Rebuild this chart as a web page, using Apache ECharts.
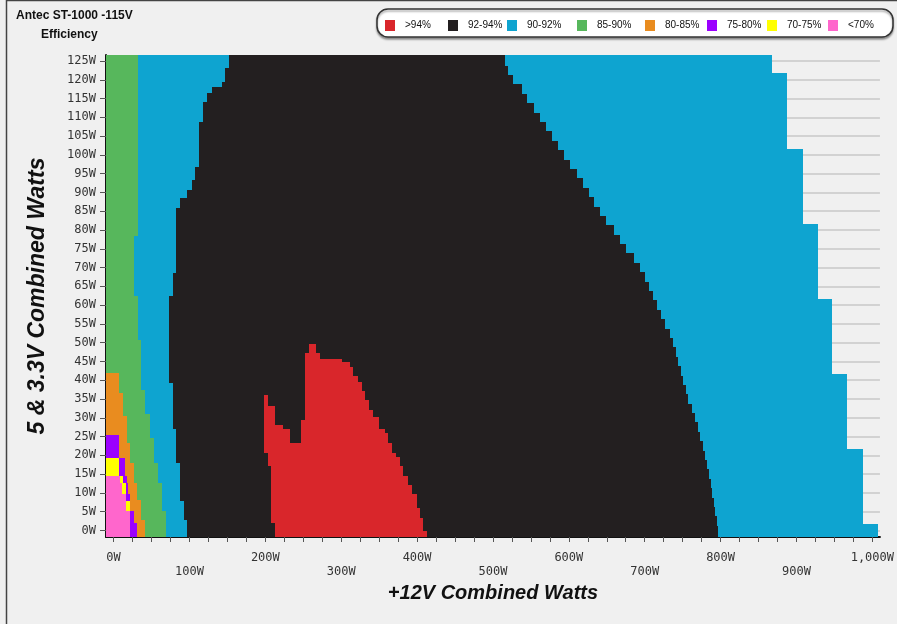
<!DOCTYPE html>
<html><head><meta charset="utf-8">
<script src="https://cdn.jsdelivr.net/npm/echarts@6/dist/echarts.min.js"></script>
<style>html,body{margin:0;padding:0;background:#f0f0f0}#chart{width:897px;height:624px}</style>
</head><body><div id="chart"></div>
<script>
// ---- categories / colours ----
const categories = ['>94%', '92-94%', '90-92%', '85-90%', '80-85%', '75-80%', '70-75%', '<70%'];
const colors = ['#d9262b', '#231f20', '#0ea4d0', '#57b75c', '#e98c1f', '#9b00ff', '#ffff00', '#ff66cc'];

// ---- tick labels ----
const xTickLabels = [0, 100, 200, 300, 400, 500, 600, 700, 800, 900, 1000];
const yTickLabels = [0, 5, 10, 15, 20, 25, 30, 35, 40, 45, 50, 55, 60, 65, 70, 75, 80, 85, 90, 95, 100, 105, 110, 115, 120, 125];

// ---- region boundaries: [from 5&3.3V watts, +12V watts] (step holds up to next entry) ----
const capacityEdge = [[-2, 1008], [1.7, 988], [21.7, 967], [41.7, 947], [61.7, 928], [81.7, 908], [101.7, 887], [121.7, 868]];
const blackLeftEdge = [[-2, 97], [2.9, 92.3], [7.8, 88], [18, 82.7], [26.9, 77.8], [39.3, 73], [62.3, 77.8], [68.5, 82.7], [85.8, 88], [88.5, 96.7], [90.7, 103.3], [93.4, 107.7], [96.9, 113], [108.7, 117.8], [114, 123], [116.5, 130], [118.2, 143], [119.5, 147.3], [123.1, 151.7]];
const blackRightEdge = [[-2, 796], [1.25, 795], [3.75, 793], [6.25, 791], [8.75, 789], [11.25, 787], [13.75, 785], [16.25, 782], [18.75, 779], [21.25, 777], [23.75, 773], [26.25, 770], [28.75, 766], [31.25, 762], [33.75, 757], [36.25, 754], [38.75, 751], [41.25, 748], [43.75, 744], [46.25, 741], [48.75, 737], [51.25, 733], [53.75, 727], [56.25, 721], [58.75, 716], [61.25, 711], [63.75, 706], [66.25, 701], [68.75, 694], [71.25, 686], [73.75, 676], [76.25, 667], [78.75, 659], [81.25, 649], [83.75, 641], [86.25, 633], [88.75, 626], [91.25, 619], [93.75, 611], [96.25, 602], [98.75, 594], [101.25, 586], [103.75, 578], [106.25, 570], [108.75, 562], [111.25, 554], [113.75, 545], [116.25, 538], [118.75, 527], [121.25, 520], [123.75, 516]];
const redLeftEdge = [[-2, 213.3], [2, 208], [17.1, 203.6], [20.7, 198.3], [36, 252], [47.3, 257.3], [49.7, null]];
const redRightEdge = [[-2, 412.5], [-0.2, 408], [3.4, 403.7], [5.9, 399.3], [9.6, 393.5], [12.2, 387.5], [14.4, 381.7], [17.1, 377.3], [19.6, 372], [20.7, 366.4], [23.3, 361.9], [26, 357.5], [27.1, 350], [30.2, 342.1], [32.2, 336.8], [34.6, 332], [37, 326.8], [39.5, 322.3], [41, 315.7], [43.4, 311.3], [44.9, 301.2], [45.7, 271.8], [47.3, 266.5], [49.7, null]];
const notchLeftEdge = [[23.3, 232.2], [26.9, 223.4], [28.2, 212.4], [33.1, 203.6], [36, null]];
const notchRightEdge = [[23.3, 247.6], [29.5, 252], [36, null]];
const greenEdge = [[-2, 68.5], [5.3, 63.7], [12.5, 58.3], [18, 53.2], [24.7, 48.4], [31, 41.8], [37.5, 36.5], [50.8, 32], [62.3, 27.3], [78.3, 32]];
const orangeEdge = [[-2, 41.8], [2.9, 36], [8.2, 30.8], [12.7, 26.4], [18, 22], [23.3, 17.6], [30.4, 12.3], [36.6, 7.5], [41.9, null]];
const purpleEdge = [[-2, 31], [1.9, 27.3], [5.1, null], [7.8, 21.1], [9.6, 19.4], [12.7, 17.6], [14.4, 15], [19.3, 7], [25.5, null]];
const yellowEdge = [[5.1, 21.1], [7.8, null], [9.6, 16.7], [12.7, 12.3], [14.4, 7], [19.3, null]];
const pinkEdge = [[-2, 22], [5.1, 16.7], [9.6, 11.5], [12.7, 7.9], [14.4, null]];

// ---- build ----
const X_MIN = -10, X_MAX = 1010, Y_MIN = -1.75, Y_MAX = 126.6;
function stepAt(edge, y) { let v = null; for (const p of edge) { if (p[0] <= y + 1e-6) v = p[1]; } return v; }
function layerRects(fromEdge, toEdge) {
  const ys = new Set([Y_MIN]);
  [fromEdge, toEdge].forEach(e => e && e.forEach(p => { if (p[0] > Y_MIN) ys.add(p[0]); }));
  const arr = [...ys].sort((a, b) => a - b);
  const out = [];
  for (let i = 0; i < arr.length; i++) {
    const y0 = arr[i], y1 = i + 1 < arr.length ? arr[i + 1] : Y_MAX;
    if (y1 <= y0) continue;
    const x0 = fromEdge ? stepAt(fromEdge, y0) : X_MIN;
    const x1 = stepAt(toEdge, y0);
    if (x0 == null || x1 == null || x1 <= x0) continue;
    out.push([y0, y1, x0, x1]);
  }
  return out;
}
const layers = [
  { cat: 2, from: null, to: capacityEdge },
  { cat: 1, from: blackLeftEdge, to: blackRightEdge },
  { cat: 0, from: redLeftEdge, to: redRightEdge },
  { cat: 1, from: notchLeftEdge, to: notchRightEdge },
  { cat: 3, from: null, to: greenEdge },
  { cat: 4, from: null, to: orangeEdge },
  { cat: 5, from: null, to: purpleEdge },
  { cat: 6, from: null, to: yellowEdge },
  { cat: 7, from: null, to: pinkEdge }
];
function renderRect(params, api) {
  const a = api.coord([api.value(2), api.value(1)]);
  const b = api.coord([api.value(3), api.value(0)]);
  const L = Math.round(a[0]), T = Math.round(a[1]), R = Math.round(b[0]), B = Math.round(b[1]);
  return { type: 'rect', shape: { x: L, y: T, width: R - L, height: B - T }, style: { fill: api.visual('color') } };
}
const series = layers.map(l => ({
  type: 'custom', name: categories[l.cat], itemStyle: { color: colors[l.cat] },
  renderItem: renderRect, data: layerRects(l.from, l.to),
  encode: { x: [2, 3], y: [0, 1] }, clip: true, silent: true
}));

const xTickMarks = []; for (let v = 0; v <= 1000; v += 25) xTickMarks.push(v);
const yMinorMarks = []; for (let v = 0; v <= 126; v += 1) yMinorMarks.push(v);
const legendLeft = [385, 448, 507, 577, 645, 707, 767, 828];
const monoFont = 'DejaVu Sans Mono';
function fmtW(v) { return String(v).replace(/\B(?=(\d{3})+(?!\d))/g, ',') + 'W'; }

const chart = echarts.init(document.getElementById('chart'));
chart.setOption({
  animation: false,
  backgroundColor: '#f0f0f0',
  title: [
    { text: 'Antec ST-1000 -115V', left: 11, top: 5, textStyle: { fontSize: 12, fontWeight: 'bold', color: '#111', fontFamily: 'Liberation Sans' } },
    { text: 'Efficiency', left: 36, top: 24, textStyle: { fontSize: 12, fontWeight: 'bold', color: '#111', fontFamily: 'Liberation Sans' } }
  ],
  graphic: [
    { type: 'line', shape: { x1: 6.5, y1: 0, x2: 6.5, y2: 624 }, style: { stroke: '#444', lineWidth: 1.5 }, z: 0 },
    { type: 'line', shape: { x1: 6, y1: 0.5, x2: 897, y2: 0.5 }, style: { stroke: '#444', lineWidth: 1.5 }, z: 0 },
    { type: 'rect', shape: { x: 377, y: 9, width: 516, height: 28, r: 11 }, style: { fill: '#ffffff', stroke: '#333', lineWidth: 1.5, shadowBlur: 2, shadowOffsetY: 2, shadowColor: 'rgba(0,0,0,0.35)' }, z: 0 }
  ],
  legend: categories.map((c, i) => ({
    data: [c], left: legendLeft[i], top: 20, icon: 'rect', itemWidth: 10, itemHeight: 11, padding: 0,
    selectedMode: false, textStyle: { fontSize: 10, color: '#111', fontFamily: 'Liberation Sans', padding: [0, 0, 0, 5] }
  })),
  grid: { left: 106, right: 17, top: 55, bottom: 87 },
  xAxis: {
    type: 'value', min: X_MIN, max: X_MAX,
    axisLine: { show: true, onZero: false, lineStyle: { color: '#111', width: 2 } },
    axisTick: { show: true, customValues: xTickMarks, length: 5, lineStyle: { color: '#555' } },
    axisLabel: { customValues: xTickLabels, margin: 14, lineHeight: 14, fontSize: 12, fontFamily: monoFont, color: '#333',
      formatter: v => ((v / 100) % 2 === 1 ? '\n' : '') + fmtW(v) },
    splitLine: { show: false },
    name: '+12V Combined Watts', nameLocation: 'middle', nameGap: 35,
    nameTextStyle: { fontSize: 20, fontWeight: 'bold', fontStyle: 'italic', color: '#111', fontFamily: 'Liberation Sans' }
  },
  yAxis: [
    {
      type: 'value', min: Y_MIN, max: Y_MAX, position: 'left',
      axisLine: { show: true, onZero: false, lineStyle: { color: '#111', width: 2 } },
      axisTick: { show: true, customValues: yTickLabels, length: 6, lineStyle: { color: '#555' } },
      axisLabel: { customValues: yTickLabels, margin: 10, fontSize: 12, fontFamily: monoFont, color: '#333', formatter: v => fmtW(v) },
      splitLine: { show: true, lineStyle: { color: '#c8c8c8', width: 1.5 } },
      name: '5 & 3.3V Combined Watts', nameLocation: 'middle', nameGap: 57,
      nameTextStyle: { fontSize: 23, fontWeight: 'bold', fontStyle: 'italic', color: '#111', fontFamily: 'Liberation Sans' }
    },
    {
      type: 'value', min: Y_MIN, max: Y_MAX, position: 'left',
      axisLine: { show: false },
      axisTick: { show: true, customValues: yMinorMarks, length: 3, lineStyle: { color: '#666' } },
      axisLabel: { show: false }, splitLine: { show: false }
    }
  ],
  series: series
});
</script></body></html>
